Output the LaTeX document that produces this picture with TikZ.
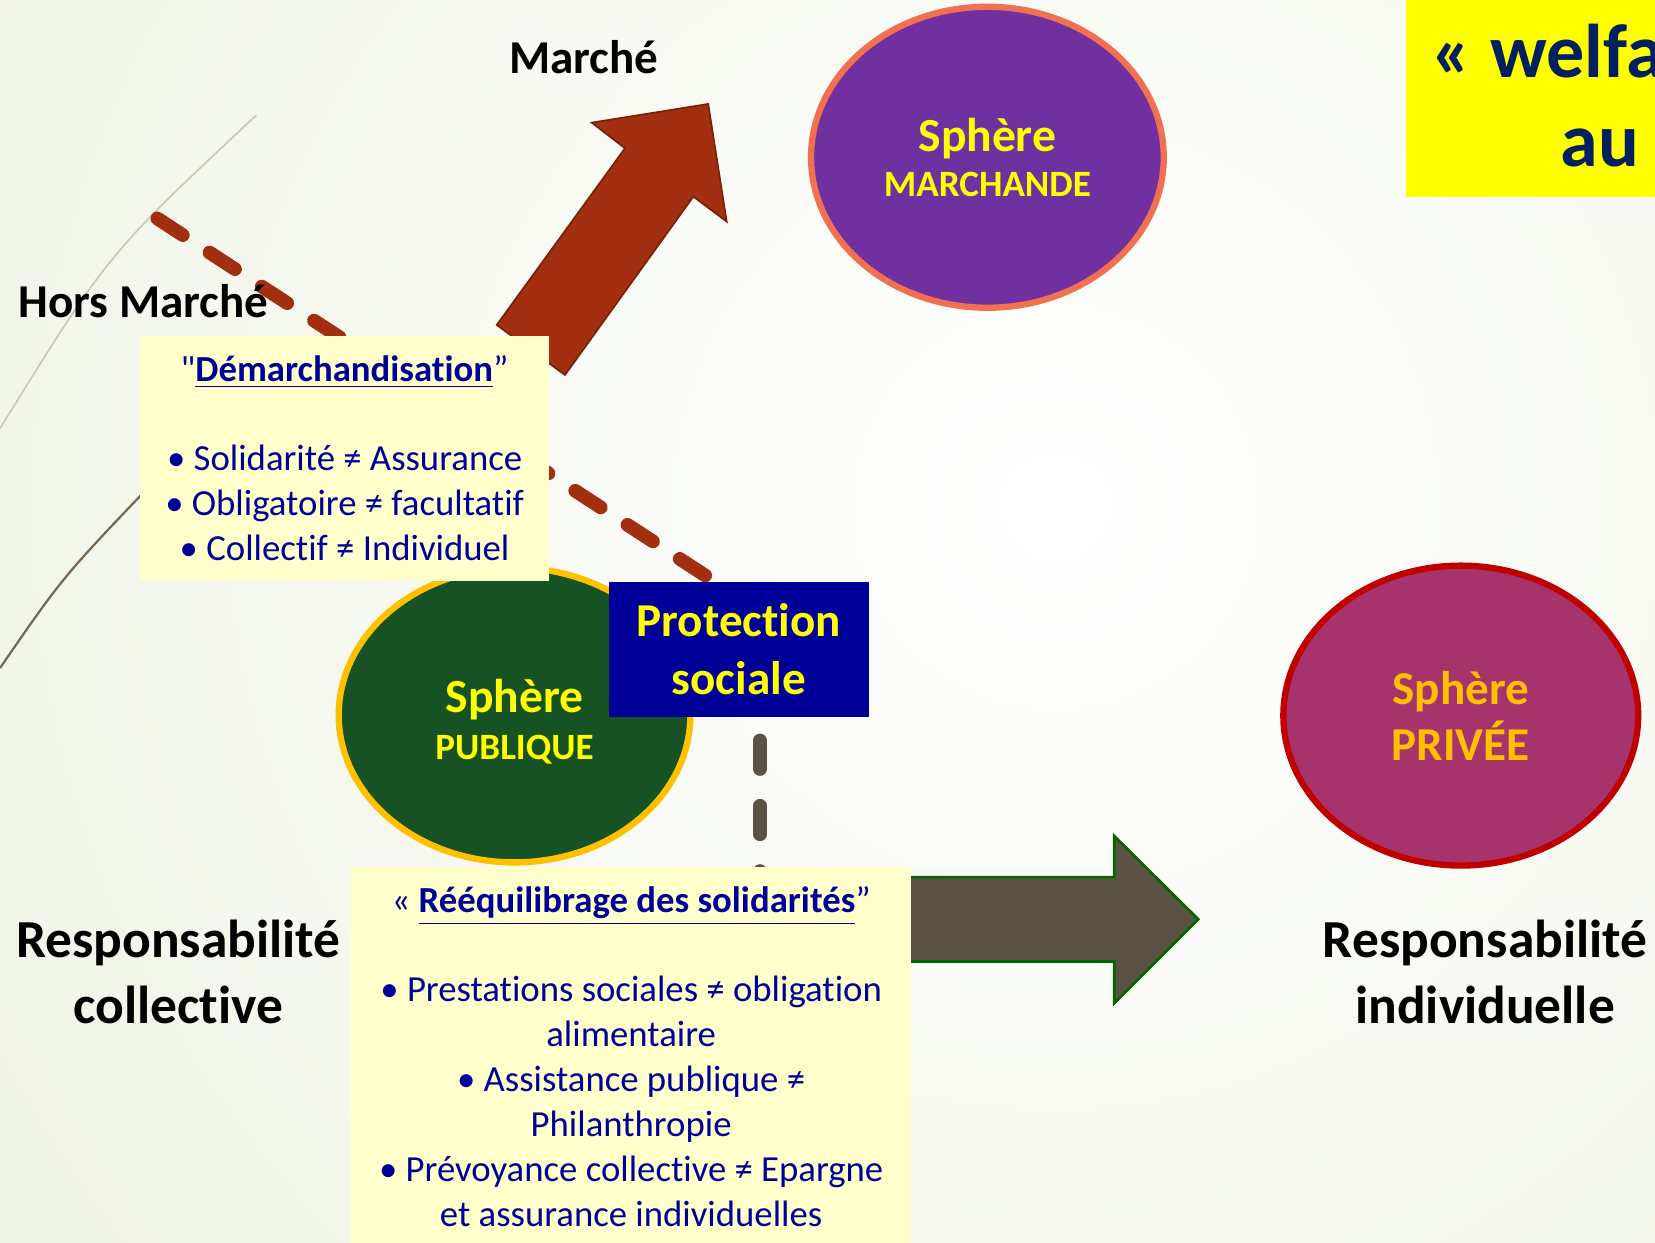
\documentclass[tikz,border=0pt]{standalone}
\usepackage{fontspec}
\setmainfont{Carlito}[Ligatures={TeXOff,NoCommon}]
\usepackage{xcolor}
\usepackage{tikz}
\usetikzlibrary{shapes.geometric}
\usetikzlibrary{positioning}

\definecolor{fondvert}{RGB}{224,232,204}
\definecolor{rouille}{RGB}{163,46,16}
\definecolor{rouillefonce}{RGB}{120,32,10}
\definecolor{creme}{RGB}{255,255,204}
\definecolor{bleunuit}{RGB}{0,0,153}
\definecolor{spheremarch}{RGB}{112,48,160}
\definecolor{corail}{RGB}{240,112,80}
\definecolor{vertpub}{RGB}{22,82,36}
\definecolor{orpub}{RGB}{255,192,0}
\definecolor{prune}{RGB}{166,51,107}
\definecolor{rougepriv}{RGB}{192,0,0}
\definecolor{taupe}{RGB}{90,83,67}
\definecolor{vertbord}{RGB}{0,102,0}
\definecolor{titrebleu}{RGB}{0,32,96}
\definecolor{jaune}{RGB}{255,255,0}
\definecolor{arcclair}{RGB}{200,202,185}
\definecolor{arcfonce}{RGB}{115,105,85}

\tikzset{
  sphere/.style={ellipse, line width=1.7pt, align=center, inner sep=0pt},
  boite/.style={rectangle, fill=creme, text=bleunuit, align=center, inner sep=0pt,
    font=\fontsize{9.9}{12.1}\selectfont},
  gras/.style={inner sep=0pt, font=\bfseries\fontsize{12.7}{15}\selectfont},
  tirets/.style={line width=3.7pt, line cap=round},
}

\begin{document}
\begin{tikzpicture}[x=0.01cm,y=-0.01cm]
\useasboundingbox (0,0) rectangle (1568,1177);
\begin{scope}
\clip (0,0) rectangle (1568,1177);
% fond
\shade[inner color=white, outer color=fondvert] (1000,480) circle (24cm);
\draw[arcclair, line width=0.45pt] (0,406) .. controls (102,241) .. (243,109);
\draw[arcfonce, line width=0.6pt] (0,633) .. controls (59.5,546.5) .. (150,452);
% marche / hors marche
\coordinate (dm1) at (149,207);
\coordinate (dm2) at (700,566);
\draw[tirets, rouille, dash pattern=on 8.2pt off 8.6pt] (dm1) -- (dm2);
\fill[rouille, draw=rouillefonce, line width=0.45pt] (470.6,307.9) -- (592.1,140.5) -- (560.6,116.2)
  -- (671,98.5) -- (688.5,210) -- (656.9,186.3) -- (535.3,355.3) -- cycle;
\node[sphere, fill=vertpub, draw=orpub, text=jaune, minimum width=3.33cm, minimum height=2.79cm,
  font=\bfseries\fontsize{12.8}{12.8}\selectfont] (publique) at (487.5,677.5)
  {\rule{0pt}{12.4pt}Sphère\\{\fontsize{10}{12}\selectfont PUBLIQUE}};
\node[boite, minimum width=3.87cm, minimum height=2.32cm] (demarch) at (326.5,434)
  {"\underline{\textbf{Démarchandisation}}”\\[12.1pt]
   • Solidarité ≠ Assurance\\
   • Obligatoire ≠ facultatif\\
   • Collectif ≠ Individuel};
\node[rectangle, fill=bleunuit, text=jaune, align=center, inner sep=0pt, minimum width=2.46cm,
  minimum height=1.28cm, font=\bfseries\fontsize{12.7}{15.4}\selectfont] (protection) at (700,615)
  {Protection\\sociale};
% responsabilite
\coordinate (dv1) at (720,701.5);
\coordinate (dv2) at (720,840);
\draw[tirets, taupe, dash pattern=on 7.7pt off 9.9pt] (dv1) -- (dv2);
\filldraw[fill=taupe, draw=vertbord, line width=0.7pt] (840,831) -- (1055.7,831) -- (1055.7,792)
  -- (1135.3,871) -- (1055.7,950.6) -- (1055.7,911) -- (840,911) -- cycle;
\node[boite, minimum width=5.30cm, minimum height=3.58cm] (reequilibrage) at (598,1001)
  {« \underline{\textbf{Rééquilibrage des solidarités}}”\\[12.1pt]
   • Prestations sociales ≠ obligation\\
   alimentaire\\
   • Assistance publique ≠\\
   Philanthropie\\
   • Prévoyance collective ≠ Epargne\\
   et assurance individuelles};
% spheres
\node[sphere, fill=spheremarch, draw=corail, text=jaune, minimum width=3.34cm, minimum height=2.85cm,
  font=\bfseries\fontsize{12.8}{12.2}\selectfont] (marchande) at (935.5,149)
  {Sphère\\{\fontsize{10}{12}\selectfont MARCHANDE}};
\node[sphere, fill=prune, draw=rougepriv, text=orpub, minimum width=3.36cm, minimum height=2.84cm,
  font=\bfseries\fontsize{12.7}{15.1}\selectfont] (privee) at (1384,678)
  {Sphère\\PRIVÉE};
% textes
\node[gras, anchor=base] (marche) at (553,70) {Marché};
\node[gras, anchor=base west] (horsmarche) at (17,301) {Hors Marché};
\node[align=center, font=\bfseries\fontsize{14.4}{17.6}\selectfont] (collective) at (169,921)
  {Responsabilité\\collective};
\node[align=center, font=\bfseries\fontsize{14.4}{17.6}\selectfont] (individuelle) at (1407,921)
  {Responsabilité\\individuelle};
% titre
\fill[jaune] (1332,-5) rectangle (1600,187);
\node[anchor=base west, text=titrebleu, inner sep=0pt, font=\bfseries\fontsize{20.5}{24}\selectfont]
  (welfare) at (1356,73) {« welfare};
\node[anchor=base west, text=titrebleu, inner sep=0pt, font=\bfseries\fontsize{20.5}{24}\selectfont]
  (au) at (1478,158) {au};
\end{scope}
\end{tikzpicture}
\end{document}
